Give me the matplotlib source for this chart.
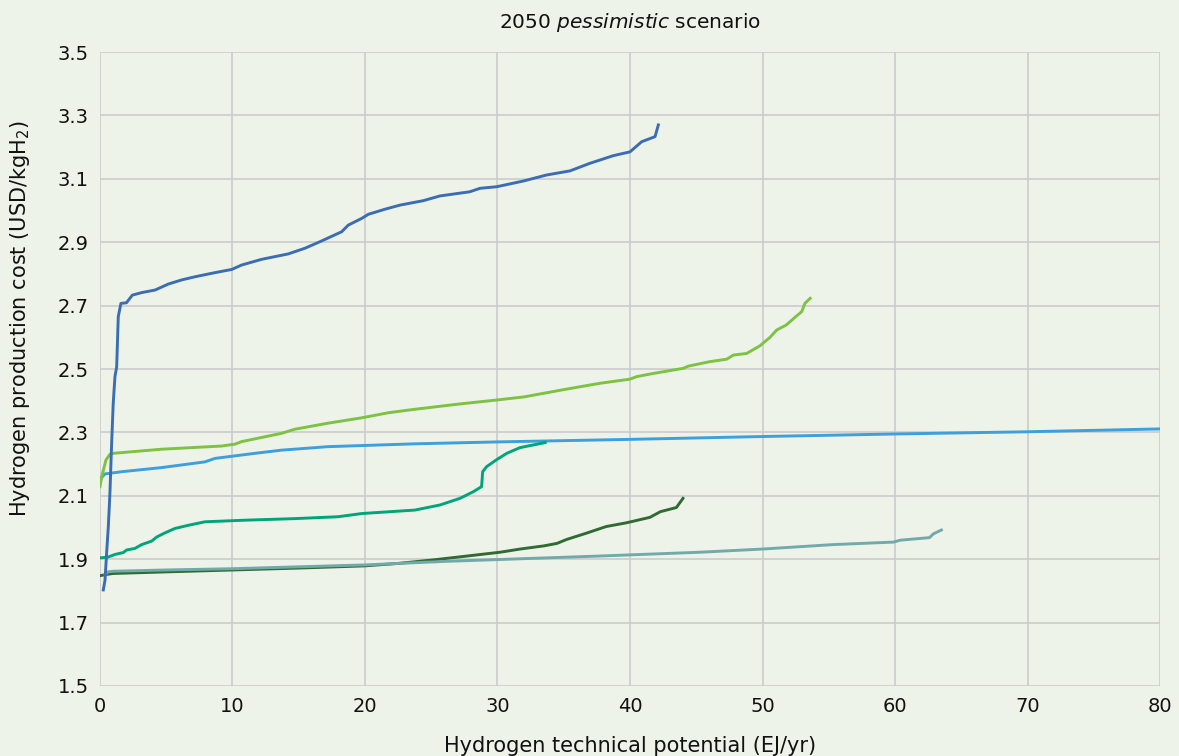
import matplotlib
matplotlib.use("Agg")
import matplotlib.pyplot as plt

plt.rcParams['font.family'] = ['DejaVu Sans']
plt.rcParams['mathtext.fontset'] = 'custom'
plt.rcParams['mathtext.rm'] = 'DejaVu Sans'
plt.rcParams['mathtext.it'] = 'DejaVu Sans:italic'

# Supply curves: cumulative technical potential (EJ/yr) vs production cost (USD/kgH2)
blue_x = [0.25, 0.38, 0.5, 0.63, 0.75, 0.88, 1.0, 1.13, 1.26, 1.38, 1.58, 2.0, 2.44, 3.14,
          4.15, 5.16, 6.16, 7.17, 8.68, 9.94, 10.69, 12.2, 14.2, 15.47, 16.73, 18.24, 18.74,
          19.75, 20.25, 21.5, 22.64, 24.4, 25.66, 27.9, 28.68, 29.94, 31.95, 33.7, 35.47,
          36.98, 38.74, 40.0, 40.88, 41.89, 42.14]
blue_y = [1.803, 1.834, 1.919, 2.003, 2.108, 2.266, 2.392, 2.476, 2.507, 2.665, 2.707, 2.709,
          2.733, 2.741, 2.749, 2.768, 2.781, 2.791, 2.804, 2.814, 2.828, 2.846, 2.863, 2.881,
          2.904, 2.933, 2.954, 2.975, 2.988, 3.004, 3.017, 3.031, 3.046, 3.059, 3.070, 3.075,
          3.093, 3.112, 3.125, 3.149, 3.173, 3.185, 3.217, 3.233, 3.270]

lime_x = [0.0, 0.13, 0.45, 0.75, 1.0, 4.65, 9.18, 10.19, 10.69, 13.7, 14.7, 17.2, 19.75,
          21.76, 23.77, 27.2, 29.9, 32.0, 35.0, 37.74, 40.0, 40.5, 41.76, 44.0, 44.4, 46.0,
          47.3, 47.8, 48.8, 49.8, 50.57, 51.07, 51.8, 52.45, 52.96, 53.2, 53.6]
lime_y = [2.129, 2.160, 2.213, 2.231, 2.234, 2.247, 2.257, 2.263, 2.271, 2.297, 2.310, 2.329,
          2.346, 2.362, 2.373, 2.390, 2.402, 2.412, 2.435, 2.455, 2.468, 2.476, 2.486, 2.502,
          2.509, 2.523, 2.531, 2.544, 2.549, 2.573, 2.600, 2.623, 2.639, 2.663, 2.681, 2.707,
          2.723]

sky_x = [0.0, 0.38, 1.64, 4.65, 7.92, 8.68, 11.7, 13.7, 17.2, 23.77, 30.0, 40.0, 50.0, 60.0,
         70.0, 80.0]
sky_y = [2.152, 2.169, 2.176, 2.189, 2.207, 2.218, 2.234, 2.244, 2.255, 2.264, 2.270, 2.278,
         2.287, 2.295, 2.302, 2.311]

teal_x = [0.0, 0.63, 1.13, 1.76, 2.01, 2.64, 3.14, 3.9, 4.28, 4.9, 5.66, 6.67, 7.92, 10.9,
          14.7, 17.98, 19.75, 23.77, 25.66, 27.17, 28.18, 28.8, 28.88, 29.18, 29.9, 30.7,
          31.7, 33.6]
teal_y = [1.904, 1.907, 1.915, 1.921, 1.929, 1.934, 1.946, 1.957, 1.970, 1.983, 1.997, 2.007,
          2.018, 2.023, 2.028, 2.034, 2.044, 2.055, 2.071, 2.092, 2.113, 2.129, 2.176, 2.192,
          2.213, 2.234, 2.252, 2.268]

forest_x = [0.0, 0.5, 1.0, 5.0, 10.0, 15.0, 20.0, 22.6, 25.2, 27.7, 30.2, 31.7, 33.5, 34.5,
            35.2, 36.7, 38.2, 39.75, 41.5, 42.3, 43.5, 44.0]
forest_y = [1.848, 1.852, 1.855, 1.860, 1.866, 1.872, 1.879, 1.887, 1.898, 1.910, 1.922,
            1.932, 1.942, 1.950, 1.962, 1.982, 2.003, 2.015, 2.032, 2.050, 2.063, 2.092]

slate_x = [0.4, 0.6, 1.0, 5.0, 10.0, 20.0, 26.0, 37.7, 45.3, 50.0, 55.3, 59.9, 60.4, 62.6,
           62.9, 63.5]
slate_y = [1.852, 1.860, 1.862, 1.866, 1.870, 1.882, 1.893, 1.910, 1.922, 1.932, 1.946,
           1.954, 1.960, 1.968, 1.980, 1.992]

x_ticks = [0, 10, 20, 30, 40, 50, 60, 70, 80]
y_ticks = [1.5, 1.7, 1.9, 2.1, 2.3, 2.5, 2.7, 2.9, 3.1, 3.3, 3.5]

bg = '#EEF3EA'
fig = plt.figure(figsize=(11.79, 7.56), dpi=100, facecolor=bg)
ax = fig.add_axes([0.0848, 0.0926, 0.8991, 0.8386], facecolor=bg)

lw = 2.1
ax.plot(sky_x, sky_y, color='#3D9FDB', lw=lw, solid_capstyle='butt')
ax.plot(forest_x, forest_y, color='#2F6B33', lw=lw)
ax.plot(slate_x, slate_y, color='#72A9AA', lw=lw)
ax.plot(teal_x, teal_y, color='#00A47B', lw=lw)
ax.plot(lime_x, lime_y, color='#7DC243', lw=lw)
ax.plot(blue_x, blue_y, color='#3A6DB2', lw=lw)

ax.set_xlim(0, 80)
ax.set_ylim(1.5, 3.5)
ax.set_xticks(x_ticks)
ax.set_yticks(y_ticks)
ax.set_xticklabels([str(v) for v in x_ticks])
ax.set_yticklabels([f"{v:.1f}" for v in y_ticks])
ax.grid(True, color='#CBCBCB', lw=1.2)
ax.set_axisbelow(True)
for s in ax.spines.values():
    s.set_visible(False)
ax.tick_params(length=0, labelsize=14, colors='#111111', pad=8)

ax.set_xlabel('Hydrogen technical potential (EJ/yr)', fontsize=15, color='#111111',
              labelpad=14)
ax.set_ylabel(r'Hydrogen production cost (USD/kgH$_2$)', fontsize=15, color='#111111')
ax.yaxis.set_label_coords(-0.064, 0.579)
ax.set_title(r'2050 $\it{pessimistic}$ scenario', fontsize=14.5, color='#111111', pad=17)

fig.savefig('out.png', dpi=100, facecolor=bg)
